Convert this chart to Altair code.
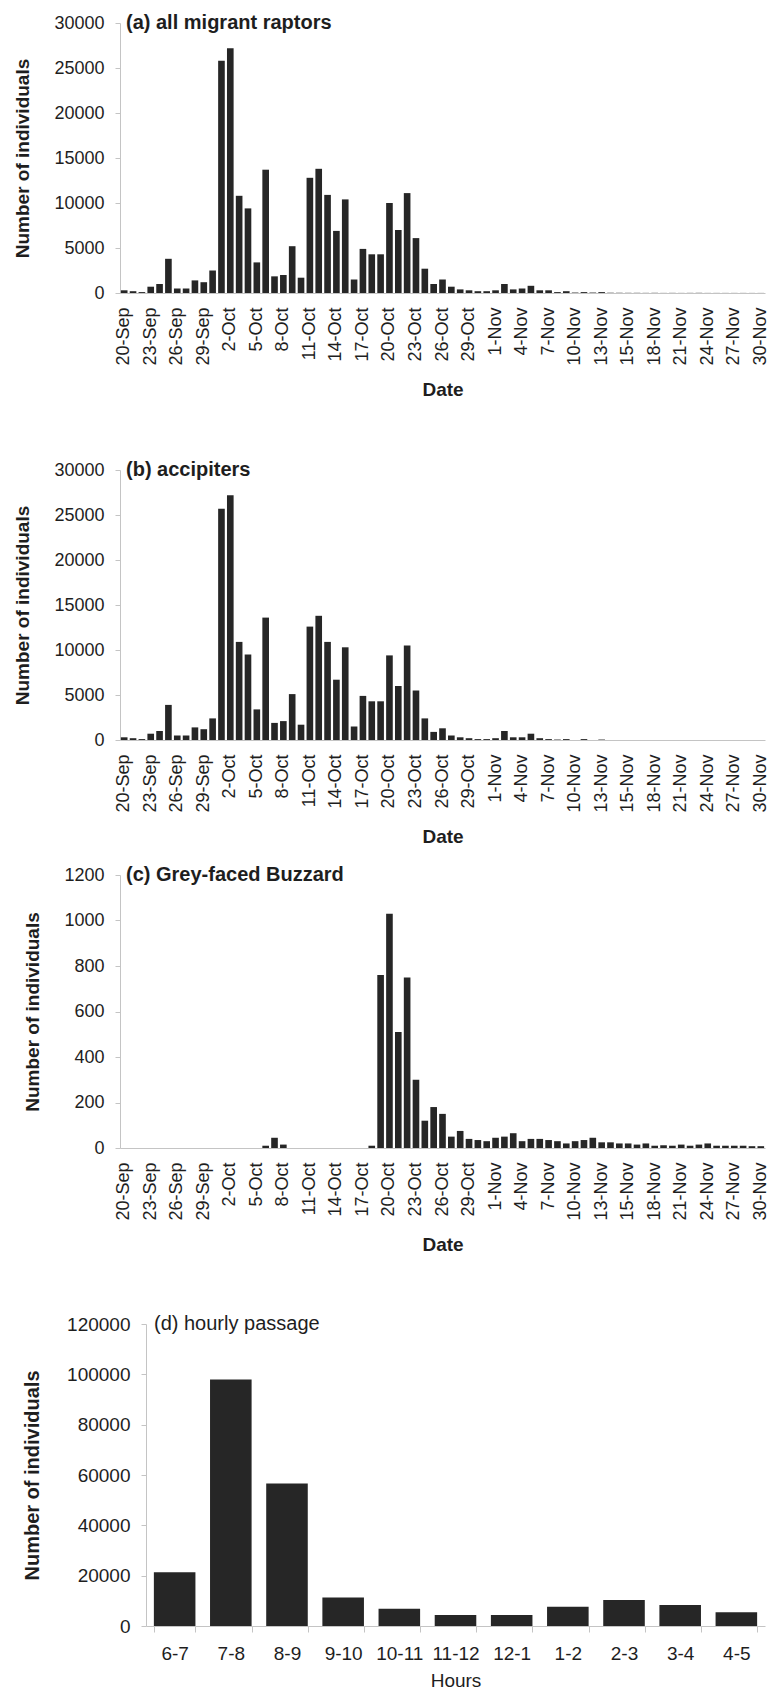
import json
import altair as alt
import pandas as pd

# ---------------- data ----------------
tick_labels = ["20-Sep", "23-Sep", "26-Sep", "29-Sep", "2-Oct", "5-Oct", "8-Oct", "11-Oct",
               "14-Oct", "17-Oct", "20-Oct", "23-Oct", "26-Oct", "29-Oct", "1-Nov", "4-Nov",
               "7-Nov", "10-Nov", "13-Nov", "15-Nov", "18-Nov", "21-Nov", "24-Nov", "27-Nov",
               "30-Nov"]

all_raptors = [300, 200, 100, 700, 1000, 3800, 500, 500, 1400, 1200,
               2500, 25800, 27200, 10800, 9400, 3400, 13700, 1850, 2000, 5200,
               1700, 12800, 13800, 10900, 6900, 10400, 1500, 4900, 4300, 4300,
               10000, 7000, 11100, 6100, 2700, 1000, 1500, 700, 400, 300,
               200, 200, 300, 1000, 400, 500, 800, 300, 300, 100,
               200, 50, 100, 50, 100, 30, 25, 20, 20, 15,
               20, 10, 15, 10, 15, 20, 10, 10, 10, 10,
               10, 8, 8]

accipiters = [300, 200, 100, 700, 1000, 3900, 500, 500, 1400, 1200,
              2400, 25700, 27200, 10900, 9500, 3400, 13600, 1900, 2100, 5100,
              1700, 12600, 13800, 10900, 6700, 10300, 1500, 4900, 4300, 4300,
              9400, 6000, 10500, 5500, 2400, 900, 1300, 500, 300, 200,
              100, 100, 200, 1000, 300, 300, 700, 200, 100, 50,
              100, 0, 100, 0, 50, 0, 0, 0, 0, 0,
              0, 0, 0, 0, 0, 0, 0, 0, 0, 0,
              0, 0, 0]

grey_faced = [0, 0, 0, 0, 0, 0, 0, 0, 0, 0,
              0, 0, 0, 0, 0, 0, 10, 45, 15, 0,
              0, 0, 0, 0, 0, 0, 0, 0, 10, 760,
              1030, 510, 750, 300, 120, 180, 150, 50, 75, 40,
              35, 30, 45, 50, 65, 30, 40, 40, 35, 30,
              20, 30, 35, 45, 25, 25, 20, 20, 15, 20,
              10, 12, 10, 15, 10, 15, 20, 10, 10, 10,
              10, 8, 8]

daily_ticks = [0, 5000, 10000, 15000, 20000, 25000, 30000]
gfb_ticks = [0, 200, 400, 600, 800, 1000, 1200]

hour_labels = ["6-7", "7-8", "8-9", "9-10", "10-11", "11-12", "12-1", "1-2", "2-3", "3-4", "4-5"]
hourly = [21400, 97900, 56600, 11300, 6900, 4400, 4400, 7600, 10300, 8300, 5500]
hourly_ticks = [0, 20000, 40000, 60000, 80000, 100000, 120000]

# ---------------- style ----------------
BAR = "#262626"
TXT = "#1e1e1e"
AX = "#c4c4c4"
FONT = "Liberation Sans"
W = 645

tick_values = [i * 3 for i in range(len(tick_labels))]
label_expr = json.dumps(tick_labels) + "[round(datum.value / 3)]"


def daily_panel(values, title, y_ticks, height, spacer=0):
    df = pd.DataFrame({"day": list(range(len(values))), "count": values})
    bars = alt.Chart(df).mark_bar(color=BAR).encode(
        x=alt.X("day:O", title="Date",
                scale=alt.Scale(paddingInner=0.25, paddingOuter=0.1),
                axis=alt.Axis(values=tick_values, labelExpr=label_expr, labelAngle=-90,
                              labelAlign="right", labelBaseline="middle",
                              ticks=False, labelPadding=14, titlePadding=15,
                              domainColor=AX, labelFont=FONT, labelFontSize=18,
                              labelColor=TXT, titleFont=FONT, titleFontSize=19,
                              titleFontWeight="bold", titleColor=TXT)),
        y=alt.Y("count:Q", title="Number of individuals",
                scale=alt.Scale(domain=[0, y_ticks[-1]], nice=False),
                axis=alt.Axis(values=y_ticks, format="d", grid=False, domainColor=AX,
                              tickColor=AX, tickSize=5, labelPadding=11, titlePadding=21,
                              labelFont=FONT, labelFontSize=18, labelColor=TXT,
                              titleFont=FONT, titleFontSize=19, titleFontWeight="bold",
                              titleColor=TXT)),
    )
    lab = alt.Chart(pd.DataFrame({"t": [title]})).mark_text(
        align="left", baseline="middle", font=FONT, fontSize=20, fontWeight="bold", color=TXT
    ).encode(x=alt.value(6), y=alt.value(0), text="t:N")
    layers = [bars, lab]
    if spacer:
        sp = alt.Chart(pd.DataFrame({"t": ["."]})).mark_text(
            opacity=0, fontSize=10
        ).encode(x=alt.value(6), y=alt.value(-spacer), text="t:N")
        layers.append(sp)
    return alt.layer(*layers).properties(width=W, height=height)


pa = daily_panel(all_raptors, "(a) all migrant raptors", daily_ticks, 270)
pb = daily_panel(accipiters, "(b) accipiters", daily_ticks, 270, spacer=47)
pc = daily_panel(grey_faced, "(c) Grey-faced Buzzard", gfb_ticks, 273)

dfh = pd.DataFrame({"hour": hour_labels, "count": hourly})
hbars = alt.Chart(dfh).mark_bar(color=BAR).encode(
    x=alt.X("hour:N", sort=hour_labels, title="Hours",
            scale=alt.Scale(range=[26, W], paddingInner=0.26, paddingOuter=0.14),
            axis=alt.Axis(labelAngle=0, tickBand="extent", tickColor=AX, tickSize=6,
                          domainColor=AX, labelPadding=12, titlePadding=8,
                          labelFont=FONT, labelFontSize=19, labelColor=TXT,
                          titleFont=FONT, titleFontSize=19, titleFontWeight="normal",
                          titleColor=TXT)),
    y=alt.Y("count:Q", title="Number of individuals",
            scale=alt.Scale(domain=[0, hourly_ticks[-1]], nice=False),
            axis=alt.Axis(values=hourly_ticks, format="d", grid=False, offset=-26,
                          domainColor=AX, tickColor=AX, tickSize=5, labelPadding=11,
                          titlePadding=24, labelFont=FONT, labelFontSize=19,
                          labelColor=TXT, titleFont=FONT, titleFontSize=20,
                          titleFontWeight="bold", titleColor=TXT)),
)
hlab = alt.Chart(pd.DataFrame({"t": ["(d) hourly passage"]})).mark_text(
    align="left", baseline="middle", font=FONT, fontSize=20, color=TXT
).encode(x=alt.value(34), y=alt.value(0), text="t:N")
hsp = alt.Chart(pd.DataFrame({"t": ["."]})).mark_text(opacity=0, fontSize=10).encode(
    x=alt.value(34), y=alt.value(-46), text="t:N")
pd_ = alt.layer(hbars, hlab, hsp).properties(width=W, height=302)

chart = alt.vconcat(pa, pb, pc, pd_, spacing=18).properties(
    padding={"left": 5, "top": 5, "right": 2, "bottom": 2},
    background="white",
).configure_view(strokeWidth=0)

chart.save("out.html", embed_options={"renderer": "svg", "actions": False})
